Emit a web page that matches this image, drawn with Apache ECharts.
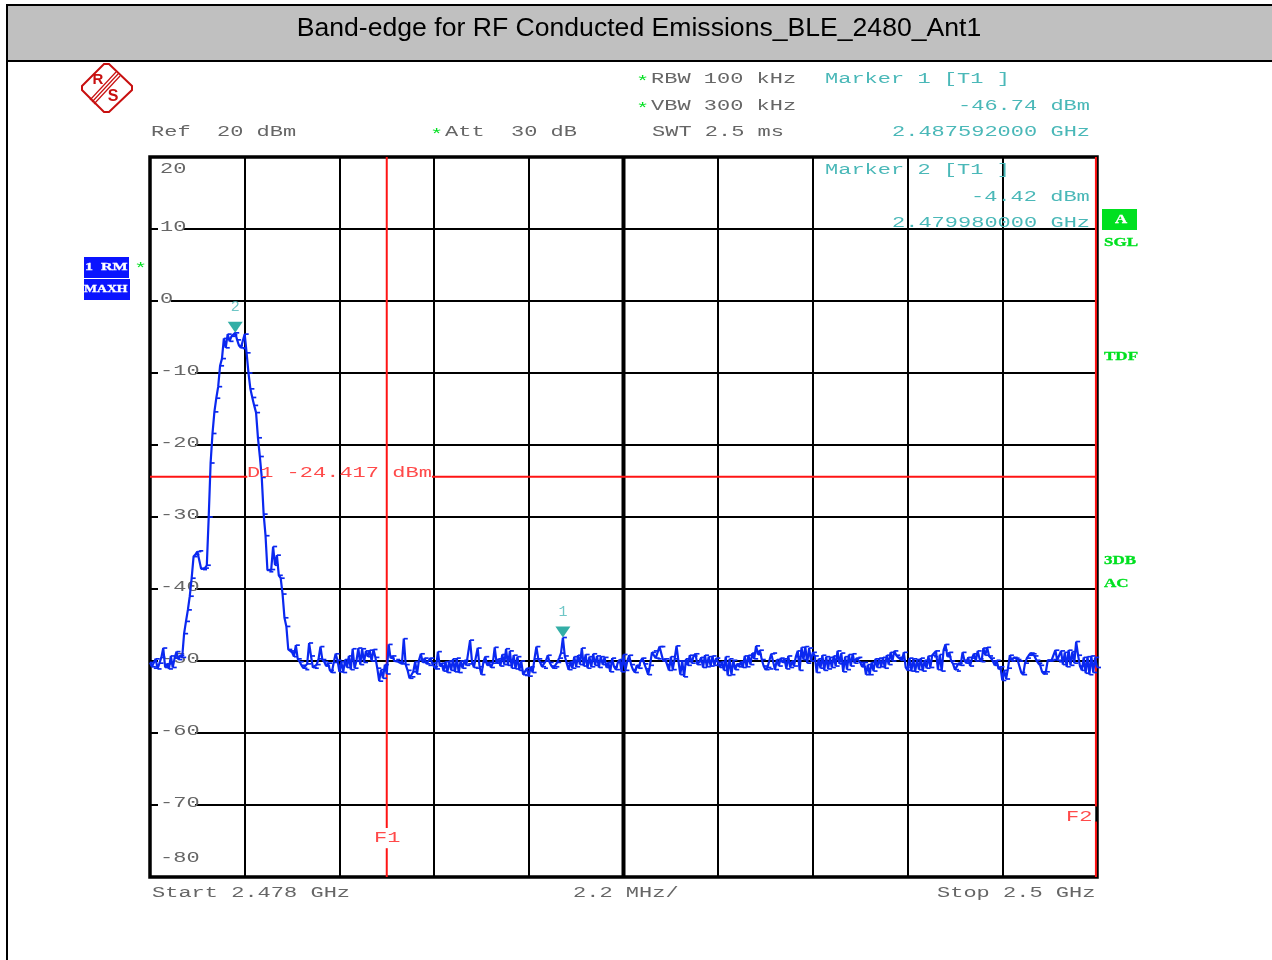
<!DOCTYPE html>
<html>
<head>
<meta charset="utf-8">
<style>html,body{margin:0;padding:0;background:#fff}#c{width:1272px;height:960px}</style>
<script src="https://cdn.jsdelivr.net/npm/echarts@6/dist/echarts.min.js"></script>
</head>
<body>
<div id="c"></div>
<script>
const chartTitle = "Band-edge for RF Conducted Emissions_BLE_2480_Ant1";
const sweepStepMHz = 0.044;
const spanMHz = 22;
const divisionMHz = 2.2;
const yTickValues = [20,10,0,-10,-20,-30,-40,-50,-60,-70,-80];
const yTickLabels = ["20","10","0","-10","-20","-30","-40","-50","-60","-70","-80"];
const displayLine1 = -24.417;
const limitF1 = 5.5;
const limitF2 = 21.975;
const marker1 = [9.592, -46.74];
const marker2 = [1.98, -4.42];
const traceLevels = [
-50.2,-50.8,-51,-49.7,-51.1,-50.3,-49.5,-48.2,-50.9,-50.4,
-51.1,-49.3,-50.9,-49.6,-48.7,-49.8,-49.2,-49.5,-46.2,-44.5,
-42.9,-41,-38.5,-35.5,-35.2,-34.8,-34.7,-37.2,-37.3,-37.1,
-36.7,-30,-22.5,-18.4,-15.4,-13.5,-11.9,-9,-8,-5.2,
-6.5,-4.6,-5.6,-4.9,-4.7,-4.42,-5.4,-6.2,-6.5,-6.6,
-4.6,-7.2,-10,-12.2,-13.4,-14.5,-15.5,-19,-21.6,-24.5,
-29.6,-32.6,-37.4,-37.6,-37.3,-34.1,-36.7,-35.3,-38.1,-38.5,
-40.7,-44,-45.2,-48.4,-48.6,-48.8,-49.4,-47.8,-49.7,-50.1,
-50.6,-51,-51.2,-50.4,-47.5,-49.3,-50.9,-51,-50.5,-49.7,
-48,-49.8,-50.1,-50.7,-50.3,-51.3,-51.6,-50.2,-49,-49.9,
-51.5,-50.1,-51.6,-49.8,-50.9,-49.3,-51.2,-48.3,-51,-50,
-48.2,-50.5,-48.3,-50.2,-48.6,-49.4,-48.5,-50,-48.4,-49.5,
-51,-52.8,-51.2,-52.4,-50.5,-51.8,-47.7,-49.6,-49.3,-50,
-49.8,-50.1,-50.2,-50.4,-46.9,-50.5,-51.3,-52.4,-52.2,-51.5,
-50.1,-51.8,-49.9,-49,-50.2,-49.6,-50.4,-50.6,-49.6,-50.3,
-50.8,-51.1,-48.7,-50.7,-50.3,-51.4,-50.1,-51.6,-50,-51.3,
-49.7,-51.5,-49.6,-51.6,-50,-51,-49.9,-50.6,-50.4,-47.1,
-50.1,-50.9,-51,-48.2,-50.8,-51.9,-50.2,-49.4,-50.6,-50.2,
-50.9,-50.3,-48.1,-50.3,-49.7,-50.7,-49.1,-50.5,-48.3,-50.6,
-48.6,-51,-49.2,-51.1,-49.4,-51.3,-50,-51.9,-52,-51,
-52.1,-50.8,-51.6,-49.7,-48,-49.7,-50.2,-50.8,-51,-50,
-49.2,-50.2,-50.7,-51,-50.8,-50.2,-49.6,-48.9,-46.74,-49.3,
-50.3,-51.2,-50.1,-51,-49.4,-50.8,-49.2,-50.5,-48.2,-50.7,
-49.1,-51,-49.4,-50.8,-49,-50.6,-49.3,-50.9,-49.4,-50.5,
-49.5,-50.9,-50.2,-51.5,-49.6,-50.8,-51.2,-50.2,-49.8,-51.5,
-49.1,-51.3,-50,-49.2,-50.5,-51.2,-51.6,-50.6,-51,-50,
-49.6,-50.4,-51.1,-51.9,-50.6,-48.8,-48.6,-49.6,-49.7,-48,
-48,-50,-49.7,-50.5,-51.3,-49.4,-51.2,-49.7,-47.9,-50,
-51.9,-50,-52.2,-49.7,-50.6,-49.2,-50.3,-49.3,-49,-50.5,
-50.1,-49.5,-50.9,-49.2,-50.8,-49.4,-50.7,-49.3,-50.6,-49.6,
-50.2,-50.9,-50.1,-51.3,-49.4,-52,-49.7,-51.9,-49.9,-51.2,
-50.4,-50.8,-50.1,-50.9,-49.3,-50.8,-49.2,-50.5,-48.9,-49.7,
-47.9,-49.1,-48.5,-49.8,-50.7,-51.2,-50.9,-51.1,-49,-48.9,
-51.2,-49.8,-50.7,-49.6,-50.2,-49.7,-51.1,-49.3,-50.9,-50,
-50.7,-49.4,-48.6,-51.3,-48.1,-49.8,-48,-50.3,-48.2,-50,
-48.8,-49.3,-51.6,-49.7,-51,-49.2,-51.3,-49.4,-51.1,-49.5,
-50.9,-49.3,-50.7,-48.6,-50.4,-48.9,-51.5,-49.4,-51.2,-49.1,
-50.7,-49,-50.3,-49.6,-49.5,-50.2,-50.8,-50.2,-51.9,-50.5,
-51.9,-50.2,-51.4,-49.7,-50.9,-49.6,-50.8,-49.5,-51,-49.2,
-50.5,-48.8,-50,-48.6,-49.2,-49.5,-49.6,-49.9,-48.8,-50.9,
-51.3,-49.6,-51.4,-49.7,-51.5,-49.8,-51.2,-49.6,-51.4,-49.9,
-51,-49.3,-50.9,-49.2,-49.4,-48.6,-51.2,-49.1,-51.4,-48.5,
-47.7,-49.4,-48.8,-50,-50.4,-51.2,-51.4,-50.3,-50.6,-48.8,
-49.9,-50.3,-49.5,-50.7,-49.6,-49,-50,-48.6,-49.7,-50.1,
-48.2,-49.2,-48.1,-49.3,-49.6,-50,-50.6,-49.9,-51.1,-50.8,
-52.7,-51.3,-52.5,-51,-49.2,-50,-49.5,-49.6,-49.8,-50,
-51.6,-51.9,-50.3,-49.6,-49.2,-48.9,-49,-49.3,-49.9,-50.3,
-50.6,-51.5,-51.8,-51.5,-49.9,-50,-49.9,-49.8,-48.5,-49.9,
-50.1,-48.6,-50.5,-48.8,-50.8,-48.5,-50.6,-48.7,-50.3,-47.3,
-49.2,-50.7,-51.3,-49.5,-51.7,-49.4,-51.9,-49.3,-51.6,-49.5,-50.9
];

const GRID = {left:150, top:157, width:947, height:720};
const MONO = '"Liberation Mono", monospace';
const GREY = '#666666', TEAL = '#4ab8b8', RED = '#ff4a4a', GREEN = '#00e020';
const PITCH_X = 13.2/7.8, SCALE_Y = 1.12;

function stretched(text, x, y, fill, bold) {
  return {type:'text', x:x, y:y, scaleX:PITCH_X, scaleY:SCALE_Y, z:20, silent:true,
    style:{text:text, fill:fill, font:(bold?'bold ':'')+'13px '+MONO, textAlign:'left', textVerticalAlign:'middle'}};
}
function wideSerif(text, x, y, fill, size, sx) {
  return {type:'text', x:x, y:y, scaleX:sx, z:20, silent:true,
    style:{text:text, fill:fill, stroke:fill, lineWidth:0.3, font:'bold '+size+'px "Liberation Serif", serif', textAlign:'left', textVerticalAlign:'middle'}};
}
function rect(x,y,w,h,fill,z){return {type:'rect',silent:true,z:z||1,shape:{x,y,width:w,height:h},style:{fill}};}

const logoLines = [[[90,100],[116,72]],[[92,102],[118,74]],[[94,104],[120,76]]].map(l=>({
  type:'line',silent:true,z:20,shape:{x1:l[0][0],y1:l[0][1],x2:l[1][0],y2:l[1][1]},style:{stroke:'#c81010',lineWidth:1.2}}));

const graphics = [
  rect(6,4,1266,2,'#000'),
  rect(8,6,1264,54,'#c0c0c0'),
  rect(8,60,1264,2,'#000'),
  rect(6,4,2,956,'#000'),
  {type:'polygon',silent:true,z:20,shape:{points:[[82,86],[104,64],[109,64],[132,86],[132,90],[109,112],[104,112],[82,90]]},
    style:{fill:'none',stroke:'#c81010',lineWidth:2}},
  ...logoLines,
  {type:'text',silent:true,z:20,x:98,y:80,style:{text:'R',fill:'#c81010',font:'bold 15px "Liberation Sans"',textAlign:'center',textVerticalAlign:'middle'}},
  {type:'text',silent:true,z:20,x:113,y:97,style:{text:'S',fill:'#c81010',font:'bold 16px "Liberation Sans"',textAlign:'center',textVerticalAlign:'middle'}},

  stretched('*',636,82,GREEN), stretched('RBW 100 kHz',651,79,GREY),
  stretched('Marker 1 [T1 ]',825,79,TEAL),
  stretched('*',636,109,GREEN), stretched('VBW 300 kHz',651,106,GREY),
  stretched('-46.74 dBm',958,106,TEAL),
  stretched('Ref  20 dBm',151,132,GREY),
  stretched('*',430,135,GREEN), stretched('Att  30 dB',445,132,GREY),
  stretched('SWT 2.5 ms',652,132,GREY),
  stretched('2.487592000 GHz',892,132,TEAL),
  stretched('Marker 2 [T1 ]',825,170,TEAL),
  stretched('-4.42 dBm',971,197,TEAL),
  stretched('2.479980000 GHz',892,223,TEAL),
  stretched('D1 -24.417 dBm',247,473,RED),
  stretched('F1',374,838,RED),
  stretched('F2',1066,817,RED),
  stretched('Start 2.478 GHz',152,893,GREY),
  stretched('2.2 MHz/',573,893,GREY),
  stretched('Stop 2.5 GHz',937,893,GREY),

  rect(84,257,45,21,'#0a14ff'), rect(84,279,46,21,'#0a14ff'),
  wideSerif('1  RM',85,267,'#fff',11,1.45),
  wideSerif('MAXH',84,289,'#fff',11,1.25),
  stretched('*',134,269,GREEN),
  rect(1102,209,35,21,GREEN),
  wideSerif('A',1115,220,'#fff',12,1.4),
  wideSerif('SGL',1104,243,GREEN,12,1.42),
  wideSerif('TDF',1104,357,GREEN,12,1.42),
  wideSerif('3DB',1104,561,GREEN,12,1.42),
  wideSerif('AC',1104,584,GREEN,12,1.42)
];

function redLine(points){
  return {type:'line',data:points,symbol:'none',silent:true,z:6,animation:false,
    lineStyle:{color:'#ff1414',width:2,cap:'butt'}};
}

const option = {
  animation:false,
  backgroundColor:'#fff',
  title:{text:chartTitle,left:634,top:10,textAlign:'center',
    textStyle:{fontFamily:'"Liberation Sans"',fontSize:26.6,fontWeight:'normal',color:'#000'}},
  grid:{left:GRID.left,top:GRID.top,width:GRID.width,height:GRID.height,show:true,
    backgroundColor:'transparent',borderColor:'#000',borderWidth:3.5},
  xAxis:{type:'value',min:0,max:spanMHz,interval:divisionMHz,
    axisLine:{show:false},axisTick:{show:false},axisLabel:{show:false},
    splitLine:{show:true,lineStyle:{color:'#000',width:2}}},
  yAxis:{type:'value',min:-80,max:20,interval:10,
    axisLine:{show:false},axisTick:{show:false},axisLabel:{show:false},
    splitLine:{show:true,lineStyle:{color:'#000',width:1.8}}},
  graphic:{elements:graphics},
  series:[
    {type:'custom',silent:true,z:3,clip:false,coordinateSystem:'cartesian2d',
      data:yTickValues.map((v,i)=>[0,v,i]),
      renderItem:function(params,api){
        const v=api.value(1), label=yTickLabels[api.value(2)], p=api.coord([0,v]);
        const inner = v===20 ? 12 : (v===-80 ? -19 : -2);
        const kids=[];
        if(v!==20 && v!==-80) kids.push({type:'rect',shape:{x:p[0]+8,y:p[1]-3,width:12*label.length+1,height:6},style:{fill:'#fff'}});
        kids.push({type:'text',x:p[0]+10,y:p[1]+inner,scaleX:PITCH_X,scaleY:SCALE_Y,
          style:{text:label,fill:GREY,font:'13px '+MONO,textAlign:'left',textVerticalAlign:'middle'}});
        return {type:'group',children:kids};
      }},
    {type:'line',z:4,silent:true,symbol:'none',data:[[spanMHz/2,20],[spanMHz/2,-80]],
      lineStyle:{color:'#000',width:4}},
    redLine([[0,displayLine1],[2.26,displayLine1]]),
    redLine([[6.55,displayLine1],[22,displayLine1]]),
    redLine([[limitF1,20],[limitF1,-73.2]]),
    redLine([[limitF1,-76],[limitF1,-80]]),
    redLine([[limitF2,20],[limitF2,-70.2]]),
    redLine([[limitF2,-72.3],[limitF2,-80]]),
    {type:'line',name:'1 RM MAXH',z:8,silent:true,
      data:traceLevels.map((v,i)=>[i*sweepStepMHz,v]),
      showSymbol:true,showAllSymbol:true,symbol:'rect',symbolSize:[4,1.7],symbolOffset:[2,0],
      itemStyle:{color:'#0a28f0'},
      lineStyle:{color:'#0a28f0',width:2.2}},
    {type:'scatter',z:10,silent:true,data:[marker1,marker2],
      symbol:'triangle',symbolRotate:180,symbolSize:[15,11],symbolOffset:[0,-5.5],
      itemStyle:{color:'#009a90'},
      label:{show:true,position:'top',distance:7,
        formatter:p=>p.dataIndex===0?'1':'2',color:TEAL,fontFamily:MONO,fontSize:15}}
  ]
};
const chart = echarts.init(document.getElementById('c'),null,{renderer:'canvas'});
chart.setOption(option);
</script>
</body>
</html>
